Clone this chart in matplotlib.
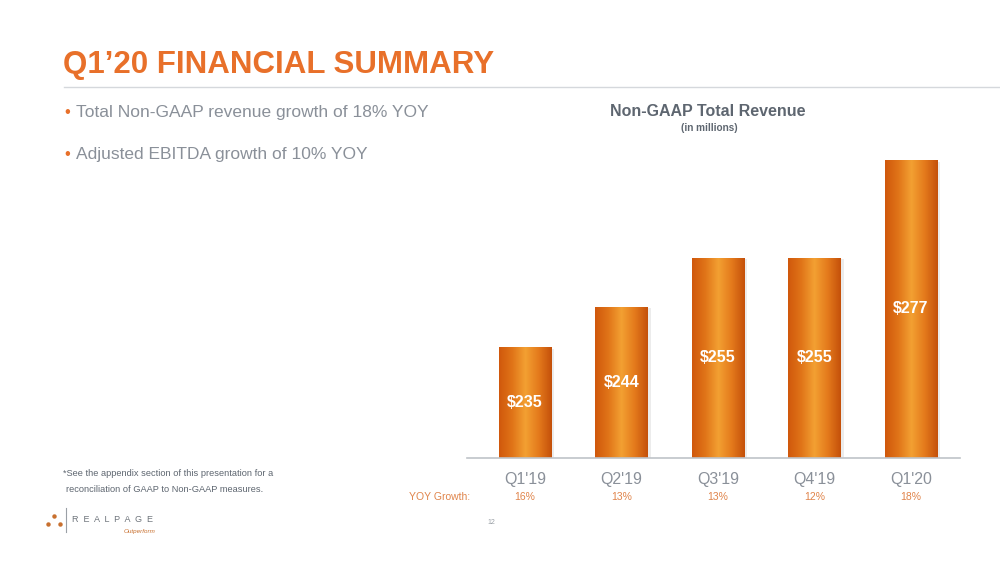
import numpy as np
import matplotlib
matplotlib.use("Agg")
import matplotlib.pyplot as plt
from matplotlib.colors import LinearSegmentedColormap
from matplotlib.patches import Rectangle

quarters = ["Q1'19", "Q2'19", "Q3'19", "Q4'19", "Q1'20"]
revenue = [235, 244, 255, 255, 277]
value_labels = ["$235", "$244", "$255", "$255", "$277"]
yoy_growth = ["16%", "13%", "13%", "12%", "18%"]
bullets = ["Total Non-GAAP revenue growth of 18% YOY",
           "Adjusted EBITDA growth of 10% YOY"]

FAM = ["Liberation Sans", "DejaVu Sans"]

ORANGE = "#E8702A"
GRAY = "#8A9099"
DARKGRAY = "#5E6670"

fig = plt.figure(figsize=(10, 5.62), dpi=100)
fig.patch.set_facecolor("white")

# Title
fig.text(0.063, 1 - 65/562, "Q1\u201920 FINANCIAL SUMMARY", color=ORANGE, fontsize=22.5,
         fontweight="bold", family=FAM, va="center", ha="left")
fig.add_artist(plt.Line2D([0.064, 1.0], [1 - 87/562, 1 - 87/562], color="#D5D8DC", lw=1.0))

# Bullets
for i, b in enumerate(bullets):
    y = 1 - (113 + 42*i)/562
    fig.text(0.064, y, "\u2022", color=ORANGE, fontsize=12, family=FAM, va="center")
    fig.text(0.076, y, b, color=GRAY, fontsize=12.5, family=FAM, va="center")

# Chart
ax = fig.add_axes([0.467, 1 - 458/562, 0.493, 308/562])
cmap = LinearSegmentedColormap.from_list("cyl", ["#D0580C", "#E07418", "#F3A032", "#E47A1C", "#C4500A"])
grad = np.linspace(0, 1, 256).reshape(1, -1)
w = 0.54
x = np.arange(len(quarters))
for xi, v, lab in zip(x, revenue, value_labels):
    ax.add_patch(Rectangle((xi - w/2 + 0.035, 210), w, v - 210 - 0.4, color="#d6d6d6", alpha=0.45, lw=0, zorder=1))
    im = ax.imshow(grad, cmap=cmap, aspect="auto", extent=(xi - w/2, xi + w/2, 210, v), zorder=2)
    rect = Rectangle((xi - w/2, 210), w, v - 210, transform=ax.transData, fill=False, lw=0)
    ax.add_patch(rect)
    im.set_clip_path(rect)
    ax.text(xi, (210 + v)/2, lab, color="white", fontsize=11.5, fontweight="bold",
            family=FAM, ha="center", va="center", zorder=3)
ax.set_xlim(-0.6, 4.51)
ax.set_ylim(210, 279.2)
for s in ["top", "right", "left"]:
    ax.spines[s].set_visible(False)
ax.spines["bottom"].set_color("#BFC3C8")
ax.spines["bottom"].set_linewidth(1.2)
ax.set_yticks([])
ax.set_xticks(x)
ax.set_xticklabels(quarters, color=GRAY, fontsize=11.5, family=FAM)
ax.tick_params(axis="x", length=0, pad=10)

# YOY growth row
yrow = 1 - 497/562
fig.text(0.470, yrow, "YOY Growth:", color="#E0844A", fontsize=7.5, family=FAM, ha="right", va="center")
for xi, g in zip(x, yoy_growth):
    xf = ax.transData.transform((xi, 210))[0] / fig.bbox.width
    fig.text(xf, yrow, g, color="#E0844A", fontsize=7.5, family=FAM, ha="center", va="center")

# Chart title
fig.text(0.708, 1 - 111/562, "Non-GAAP Total Revenue", color=DARKGRAY, fontsize=11.5,
         fontweight="bold", family=FAM, ha="center", va="center")
fig.text(0.709, 1 - 128/562, "(in millions)", color=DARKGRAY, fontsize=7.2,
         fontweight="bold", family=FAM, ha="center", va="center")

# Footnote
fig.text(0.063, 1 - 473/562, "*See the appendix section of this presentation for a", color=DARKGRAY,
         fontsize=6.7, family=FAM, va="center")
fig.text(0.066, 1 - 489/562, "reconciliation of GAAP to Non-GAAP measures.", color=DARKGRAY,
         fontsize=6.7, family=FAM, va="center")

# Logo
fig.add_artist(plt.Line2D([0.048, 0.054, 0.060], [1 - 524/562, 1 - 516/562, 1 - 524/562],
                          transform=fig.transFigure, ls="none", marker="o", ms=3.2,
                          color="#C8702F", mec="none"))
fig.add_artist(plt.Line2D([0.066, 0.066], [1 - 532/562, 1 - 508/562], color="#9AA0A6", lw=0.8))
fig.text(0.072, 1 - 519/562, "R  E  A  L  P  A  G  E", color="#6E747B", fontsize=6.5, family=FAM, va="center")
fig.text(0.124, 1 - 531/562, "Outperform", color="#C8702F", fontsize=4.5, style="italic", family=FAM, va="center")

# Page number
fig.text(0.487, 1 - 523/562, "12", color="#9AA0A6", fontsize=5, family=FAM, va="center")

fig.savefig("out.png", dpi=100, facecolor="white")
